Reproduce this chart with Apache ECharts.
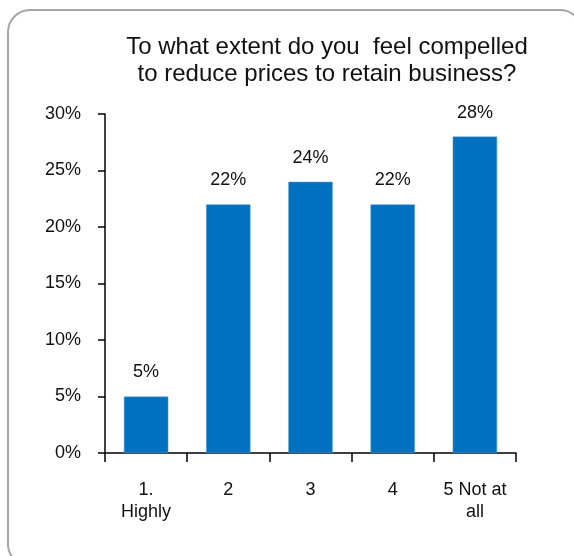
<!DOCTYPE html>
<html>
<head>
<meta charset="utf-8">
<style>
  html, body { margin: 0; padding: 0; background: #ffffff; }
  #chart { width: 574px; height: 556px; }
</style>
<script src="https://cdn.jsdelivr.net/npm/echarts@6/dist/echarts.min.js"></script>
</head>
<body>
<div id="chart"></div>
<script>
// Survey answers: share of respondents per response option
const categories = ['1.\nHighly', '2', '3', '4', '5 Not at\nall'];
const shares = [5, 22, 24, 22, 28];
const yTicks = { min: 0, max: 30, interval: 5 };
const titleText = 'To what extent do you  feel compelled\nto reduce prices to retain business?';

const FONT = '"Liberation Sans", Arial, sans-serif';
const chart = echarts.init(document.getElementById('chart'), null, { renderer: 'canvas' });

chart.setOption({
  animation: false,
  backgroundColor: '#ffffff',
  graphic: [{
    type: 'rect',
    shape: { x: 8, y: 10, width: 574, height: 556, r: 22 },
    style: { fill: 'none', stroke: '#a6a6a6', lineWidth: 2 },
    z: -1
  }],
  title: {
    text: titleText,
    left: 322,
    top: 29,
    textAlign: 'center',
    textStyle: {
      fontFamily: FONT, fontSize: 24, fontWeight: 'normal',
      color: '#111111', lineHeight: 27, align: 'center'
    }
  },
  grid: { left: 105, right: 58, top: 114, bottom: 103 },
  xAxis: {
    type: 'category',
    data: categories,
    axisLine: { lineStyle: { color: '#000000', width: 1.5 } },
    axisTick: { show: true, length: 9, alignWithLabel: false, lineStyle: { color: '#000000', width: 1.5 } },
    axisLabel: {
      fontFamily: FONT, fontSize: 18, color: '#111111',
      lineHeight: 22, margin: 26, interval: 0
    }
  },
  yAxis: {
    type: 'value',
    min: yTicks.min, max: yTicks.max, interval: yTicks.interval,
    axisLine: { show: true, lineStyle: { color: '#000000', width: 1.5 } },
    axisTick: { show: true, length: 7, lineStyle: { color: '#000000', width: 1.5 } },
    splitLine: { show: false },
    axisLabel: {
      fontFamily: FONT, fontSize: 18, color: '#111111', margin: 24,
      formatter: v => v + '%'
    }
  },
  series: [{
    type: 'bar',
    data: shares,
    barWidth: '54%',
    itemStyle: { color: '#0070c0', borderColor: '#5aa0d8', borderWidth: 0.5 },
    label: {
      show: true, position: 'top', distance: 15,
      fontFamily: FONT, fontSize: 18, color: '#111111',
      formatter: p => p.value + '%'
    }
  }]
});
</script>
</body>
</html>
